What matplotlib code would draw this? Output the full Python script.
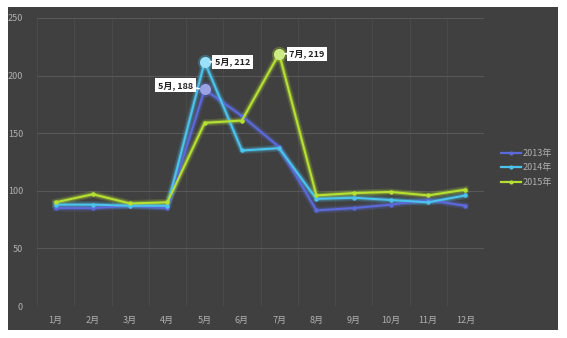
import matplotlib
matplotlib.use("Agg")
import matplotlib.pyplot as plt
import matplotlib.patheffects as pe
from matplotlib.patches import Rectangle
from matplotlib.lines import Line2D

plt.rcParams['font.family'] = ['Noto Sans CJK SC', 'DejaVu Sans']

months = ['1月', '2月', '3月', '4月', '5月', '6月', '7月', '8月', '9月', '10月', '11月', '12月']
y2013 = [85, 85, 87, 85, 188, 165, 138, 83, 85, 88, 92, 87]
y2014 = [88, 88, 87, 87, 212, 135, 137, 93, 94, 92, 90, 96]
y2015 = [90, 97, 89, 90, 159, 161, 219, 96, 98, 99, 96, 101]
series = [('2013年', y2013, '#5b6ad8', '#9aa2e6'),
          ('2014年', y2014, '#4cc3ec', '#9be0fa'),
          ('2015年', y2015, '#b5e033', '#cdec84')]
# (series index, month index, label offset in points)
callouts = [(0, 4, (-21, 3)), (1, 4, (20, 0)), (2, 6, (20, 0))]

fig = plt.figure(figsize=(5.67, 3.38), dpi=100, facecolor='white')
fig.patches.append(Rectangle((8 / 567, 1 - 330 / 338), 550 / 567, 323 / 338,
                             transform=fig.transFigure, facecolor='#404040',
                             edgecolor='none', zorder=-10))

ax = fig.add_axes([37 / 567, 1 - 306 / 338, 447 / 567, 288 / 338])
ax.set_facecolor('none')
x = list(range(1, 13))

handles = []
for name, vals, col, light in series:
    # soft glow under the line
    ax.plot(x, vals, color=col, lw=5, alpha=0.18, solid_joinstyle='round', zorder=2)
    ax.plot(x, vals, color=col, lw=3, alpha=0.3, solid_joinstyle='round', zorder=2)
    ax.plot(x, vals, color=col, lw=1.5, marker='o', ms=3.2,
            markeredgewidth=0, zorder=3)
    handles.append(Line2D([], [], color=col, lw=1.6, marker='o', ms=3,
                          markeredgewidth=0, label=name))

for si, mi, off in callouts:
    name, vals, col, light = series[si]
    ax.plot(x[mi], vals[mi], 'o', ms=11, color=col, alpha=0.3, markeredgewidth=0, zorder=4)
    ax.plot(x[mi], vals[mi], 'o', ms=8, color=light, markeredgewidth=0, zorder=4)
    ax.annotate(f'{months[mi]}, {vals[mi]}', (x[mi], vals[mi]), xytext=off,
                textcoords='offset points', ha='center', va='center',
                fontsize=6.5, fontweight='bold', color='#222222',
                bbox=dict(boxstyle='square,pad=0.3', fc='white', ec='none'),
                arrowprops=dict(arrowstyle='-', color='white', lw=1.2,
                                shrinkA=0, shrinkB=4), zorder=5)

ax.set_xlim(0.5, 12.5)
ax.set_ylim(0, 250)
ax.set_yticks([0, 50, 100, 150, 200, 250])
ax.set_xticks(x)
ax.set_xticklabels(months)
ax.set_xticks([i + 0.5 for i in range(0, 13)], minor=True)
ax.grid(axis='y', color='#575757', lw=0.8)
ax.grid(axis='x', which='minor', color='#4b4b4b', lw=0.6)
ax.tick_params(which='both', length=0, colors='#b0b0b0', labelsize=6.5)
ax.tick_params(axis='x', pad=7)
ax.tick_params(axis='y', pad=10)
for s in ax.spines.values():
    s.set_visible(False)

leg = fig.legend(handles=handles, loc='center left', bbox_to_anchor=(493 / 567, 1 - 168 / 338),
                 frameon=False, fontsize=6.5, handlelength=2.2, labelspacing=0.6,
                 handletextpad=0.2)
for t in leg.get_texts():
    t.set_color('#b0b0b0')

fig.savefig('out.png', dpi=100, facecolor='white')
